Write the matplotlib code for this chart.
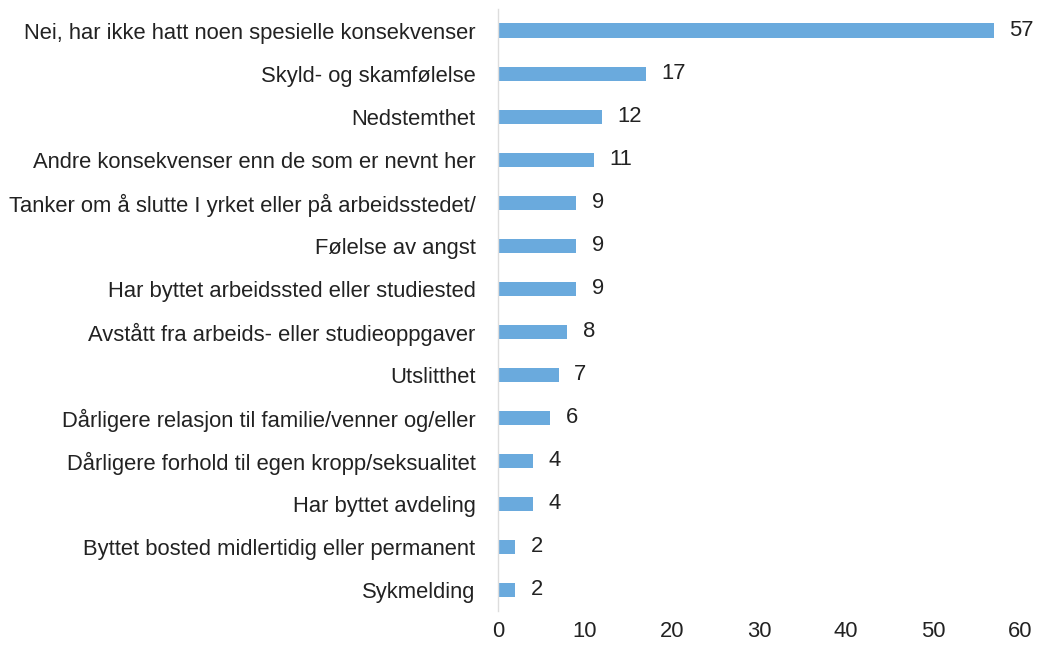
import matplotlib
matplotlib.use("Agg")
from matplotlib import pyplot as plt

labels = [
    'Nei, har ikke hatt noen spesielle konsekvenser',
    'Skyld- og skamfølelse',
    'Nedstemthet',
    'Andre konsekvenser enn de som er nevnt her',
    'Tanker om å slutte I yrket eller på arbeidsstedet/',
    'Følelse av angst',
    'Har byttet arbeidssted eller studiested',
    'Avstått fra arbeids- eller studieoppgaver',
    'Utslitthet',
    'Dårligere relasjon til familie/venner og/eller',
    'Dårligere forhold til egen kropp/seksualitet',
    'Har byttet avdeling',
    'Byttet bosted midlertidig eller permanent',
    'Sykmelding',
]
values = [57, 17, 12, 11, 9, 9, 9, 8, 7, 6, 4, 4, 2, 2]

plt.rcParams['font.family'] = ['Liberation Sans', 'DejaVu Sans']

fig = plt.figure(figsize=(10.37, 6.49), dpi=100)
ax = fig.add_axes([0.480, 0.058, 0.5036, 0.928])

pos = list(range(len(labels)))
ax.barh(pos, values, height=0.33, color='#6aaadd')
ax.set_ylim(len(labels) - 0.5, -0.5)
ax.set_xlim(0, 60)
ax.set_xticks([0, 10, 20, 30, 40, 50, 60])

for p, v in zip(pos, values):
    ax.text(v + 1.8, p, str(v), va='center', ha='left', fontsize=15.8, color='#222222')

ax.set_yticks(pos)
ax.set_yticklabels(labels, fontsize=15.8, color='#222222')
ax.tick_params(axis='y', length=0, pad=16)
ax.tick_params(axis='x', length=0, labelsize=15.8, labelcolor='#222222', pad=7)

for s in ['top', 'right', 'bottom']:
    ax.spines[s].set_visible(False)
ax.spines['left'].set_color('#dddddd')
ax.spines['left'].set_linewidth(1)

fig.savefig('out.png', dpi=100)
